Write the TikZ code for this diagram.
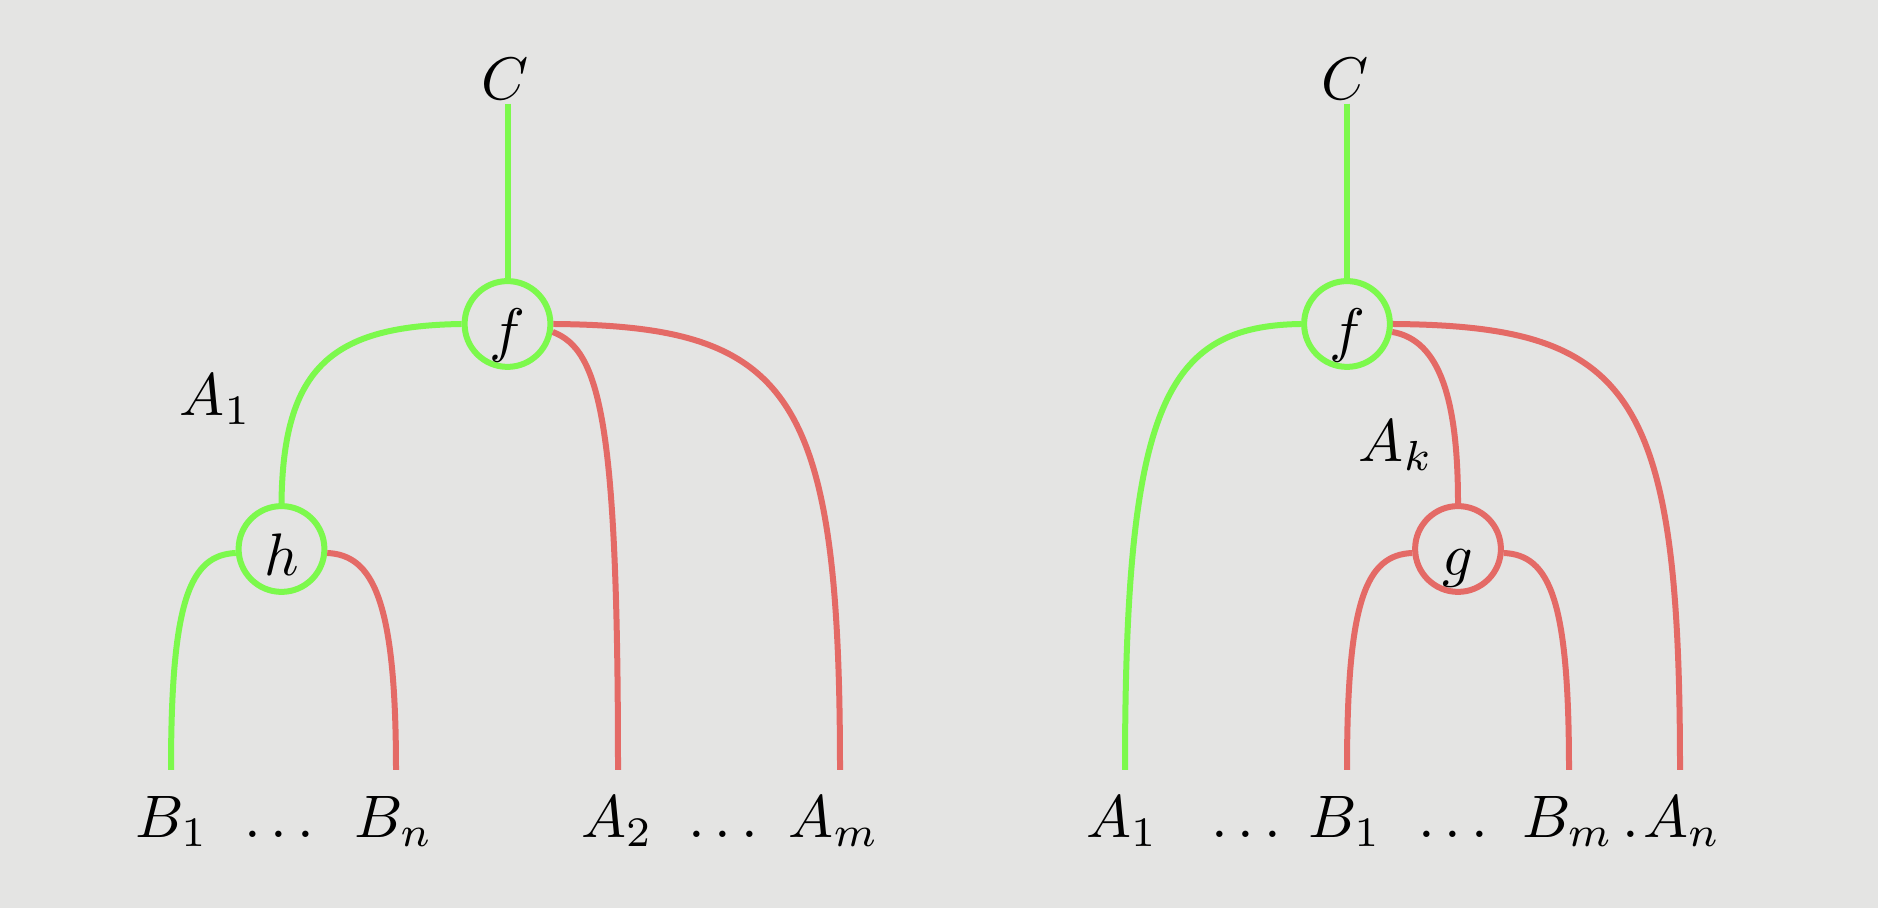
\documentclass[tikz,border=0pt]{standalone}
\definecolor{bgc}{RGB}{228,228,227}
\definecolor{wg}{RGB}{124,249,76}
\definecolor{wr}{RGB}{228,106,102}
\begin{document}
\begin{tikzpicture}[x=0.166667pt,y=-0.166667pt,
  wire/.style={line width=1pt},
  gw/.style={wire,draw=wg},
  rw/.style={wire,draw=wr},
  boxbase/.style={circle,line width=1pt,minimum size=14.3pt,inner sep=0pt,text height=9pt,text depth=0pt},
  gbox/.style={boxbase,draw=wg},
  rbox/.style={boxbase,draw=wr},
  lbl/.style={inner sep=0pt,anchor=base},
  top/.style={inner sep=0pt,outer sep=0.6pt,anchor=base}]
\fill[bgc] (0,0) rectangle (1878,908);
\useasboundingbox (0,0) rectangle (1878,908);

% ---------- left diagram ----------
\node[top] (C1) at (505,100) {$C$};
\node[gbox] (f1) at (507.5,324) {$f$};
\node[gbox] (h) at (281.5,549) {$h$};
\coordinate (b1) at (171,770);
\coordinate (bn) at (396,770);
\coordinate (a2) at (618,770);
\coordinate (am) at (840,770);

\draw[gw] (C1.south -| f1.north) -- (f1.north);
\draw[gw] (f1.west) .. controls (333,326) and (283,366) .. (h.north);
\draw[gw] (h.185) .. controls (190,555) and (171,600) .. (b1);
\draw[rw] (h.-5) .. controls (373,555) and (396,600) .. (bn);
\draw[rw] (f1.-10) .. controls (600,350) and (618,420) .. (a2);
\draw[rw] (f1.east) .. controls (790,326) and (840,390) .. (am);

\node[lbl] (lA1) at (215.5,416) {$A_1$};
\node[lbl] (lB1) at (172,838) {$B_1$};
\node[lbl] (ld1) at (279,838) {$\dots$};
\node[lbl] (lBn) at (394,838) {$B_n$};
\node[lbl] (lA2) at (617,838) {$A_2$};
\node[lbl] (ld2) at (723,838) {$\dots$};
\node[lbl] (lAm) at (834,838) {$A_m$};

% ---------- right diagram ----------
\node[top] (C2) at (1345,100) {$C$};
\node[gbox] (f2) at (1347,324) {$f$};
\node[rbox] (g) at (1458,549) {$g$};
\coordinate (ra1) at (1125,770);
\coordinate (rb1) at (1347,770);
\coordinate (rbm) at (1569,770);
\coordinate (ran) at (1680,770);

\draw[gw] (C2.south -| f2.north) -- (f2.north);
\draw[gw] (f2.west) .. controls (1165,326) and (1125,405) .. (ra1);
\draw[rw] (f2.-10) .. controls (1440,340) and (1458,400) .. (g.north);
\draw[rw] (g.185) .. controls (1366,555) and (1347,600) .. (rb1);
\draw[rw] (g.-5) .. controls (1550,555) and (1569,600) .. (rbm);
\draw[rw] (f2.east) .. controls (1631,326) and (1680,390) .. (ran);

\node[lbl] (lAk) at (1396,462) {$A_k$};
\node[lbl] (rA1) at (1122,838) {$A_1$};
\node[lbl] (rd1) at (1246,838) {$\dots$};
\node[lbl] (rB1) at (1345,838) {$B_1$};
\node[lbl] (rd2) at (1453,838) {$\dots$};
\node[lbl] (rBm) at (1568,838) {$B_m$};
\node[lbl] (rdot) at (1631,838) {$.$};
\node[lbl] (rAn) at (1682,838) {$A_n$};
\end{tikzpicture}
\end{document}
